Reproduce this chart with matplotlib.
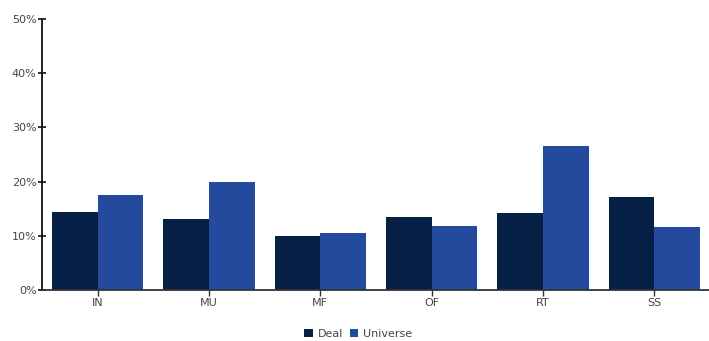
import matplotlib
matplotlib.use("Agg")
import matplotlib.pyplot as plt
import numpy as np
from matplotlib.ticker import FuncFormatter

categories = ["IN", "MU", "MF", "OF", "RT", "SS"]
deal = [14.4, 13.1, 10.0, 13.5, 14.2, 17.2]
universe = [17.5, 19.9, 10.5, 11.8, 26.6, 11.6]
series_names = ["Deal", "Universe"]
y_ticks = [0, 10, 20, 30, 40, 50]

c_deal = "#061f45"
c_uni = "#234a9c"

fig = plt.figure(figsize=(7.09, 3.41), dpi=100)
ax = fig.add_axes([42/709, 1-290/341, 668/709, 271/341])

x = np.arange(len(categories))
w = 0.41
ax.bar(x - w/2, deal, width=w, color=c_deal, label=series_names[0],
       edgecolor="#8a97ad", linewidth=0.0)
ax.bar(x + w/2, universe, width=w, color=c_uni, label=series_names[1],
       linewidth=0.0)

ax.set_xlim(-0.5, 5.5)
ax.set_ylim(0, 50)
ax.set_xticks(x)
ax.set_xticklabels(categories)
ax.set_yticks(y_ticks)
ax.yaxis.set_major_formatter(FuncFormatter(lambda v, p: f"{int(v)}%"))

for s in ["top", "right"]:
    ax.spines[s].set_visible(False)
ax.spines["left"].set_linewidth(1.3)
ax.spines["bottom"].set_linewidth(1.3)
ax.spines["left"].set_color("#111111")
ax.spines["bottom"].set_color("#333333")

ax.tick_params(axis="y", direction="inout", length=6, width=1.2, labelsize=8,
               labelcolor="#444444", pad=1, color="#111111")
ax.tick_params(axis="x", direction="out", length=4, width=1.0, labelsize=8,
               labelcolor="#444444", pad=2, color="#333333")

leg = fig.legend(loc="center", bbox_to_anchor=(0.505, 1-334/341), ncol=2,
                 frameon=False, fontsize=8, handlelength=0.8, handleheight=0.8,
                 handletextpad=0.4, columnspacing=0.6, labelcolor="#444444")

fig.savefig("out.png", dpi=100)
